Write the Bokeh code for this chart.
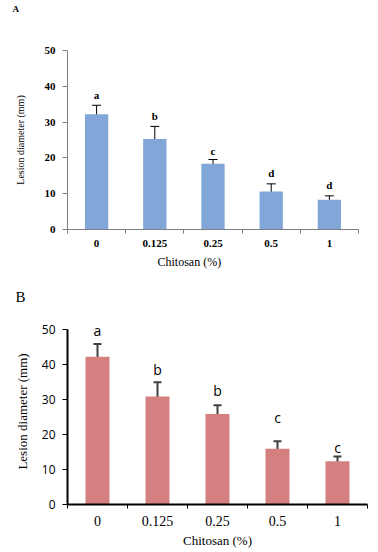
from bokeh.plotting import figure
from bokeh.models import Range1d, FixedTicker, Whisker, TeeHead, ColumnDataSource, Title
from bokeh.layouts import column
from bokeh.core.properties import value
from bokeh.embed import file_html
from bokeh.resources import INLINE

# ---- data ----
categories = ["0", "0.125", "0.25", "0.5", "1"]
y_ticks = [0, 10, 20, 30, 40, 50]

a_means = [32.2, 25.3, 18.4, 10.6, 8.3]
a_errs = [2.5, 3.5, 1.15, 2.15, 1.1]
a_letters = ["a", "b", "c", "d", "d"]
a_letter_y = [37.6, 31.8, 21.8, 15.7, 12.4]

b_means = [42.1, 30.8, 25.8, 15.9, 12.3]
b_errs = [3.65, 4.0, 2.5, 2.1, 1.4]
b_letters = ["a", "b", "b", "c", "c"]
b_letter_y = [49.7, 38.6, 32.6, 24.9, 16.2]

SERIF = "Liberation Serif"
SANS = "Open Sans"


def make_panel(means, errs, letters, letter_y, *, frame_w, frame_h, y_end,
               top, bottom, left, bar_color, axis_color, axis_w, err_color, err_w,
               cap, tick_font, tick_size, tick_style, ytick_font, ytick_size,
               ytick_style, xlabel, ylabel, label_size, ylabel_size,
               letter_font, letter_size, letter_style, panel_text, panel_size,
               panel_style, panel_offset, panel_standoff, spacer_standoff,
               ylab_standoff, xtick_standoff, xlab_offset, xlab_standoff, xlab_align):
    xs = list(range(1, len(categories) + 1))
    src = ColumnDataSource(dict(
        x=xs, top=means,
        upper=[m + e for m, e in zip(means, errs)],
        lower=[m - e for m, e in zip(means, errs)],
        letter=letters, ly=letter_y))
    p = figure(frame_width=frame_w, frame_height=frame_h,
               x_range=Range1d(0.5, len(categories) + 0.5), y_range=Range1d(0, y_end),
               output_backend="svg", toolbar_location=None,
               min_border_left=left, min_border_right=4, min_border_top=top,
               min_border_bottom=bottom)
    p.outline_line_color = None
    p.grid.grid_line_color = None
    p.background_fill_color = "white"
    p.border_fill_color = "white"

    p.vbar(x="x", top="top", width=0.4, source=src, fill_color=bar_color,
           line_color=None)
    w = Whisker(base="x", upper="upper", lower="lower", source=src,
                line_color=err_color, line_width=err_w,
                upper_head=TeeHead(size=cap, line_color=err_color, line_width=err_w),
                lower_head=TeeHead(size=cap, line_color=err_color, line_width=err_w))
    p.add_layout(w)
    p.text(x="x", y="ly", text="letter", source=src, text_align="center",
           text_baseline="middle", text_font=value(letter_font),
           text_font_size=letter_size, text_font_style=letter_style,
           text_color="black")

    # x axis: labels at category centres, ticks on category boundaries
    xa = p.xaxis[0]
    xa.ticker = FixedTicker(ticks=xs, minor_ticks=[x - 0.5 for x in xs] + [xs[-1] + 0.5])
    xa.major_label_overrides = {x: c for x, c in zip(xs, categories)}
    xa.major_tick_out = 0
    xa.major_tick_in = 0
    xa.minor_tick_out = 4
    xa.minor_tick_in = 0
    xa.major_label_standoff = xtick_standoff
    xa.major_label_text_font = tick_font
    xa.major_label_text_font_size = tick_size
    xa.major_label_text_font_style = tick_style
    xa.major_label_text_color = "black"

    p.add_layout(Title(text=xlabel, align=xlab_align, offset=xlab_offset,
                       standoff=xlab_standoff, text_font=SERIF,
                       text_font_size=label_size, text_font_style="normal",
                       text_color="black"), "below")

    ya = p.yaxis[0]
    ya.ticker = FixedTicker(ticks=y_ticks)
    ya.bounds = (0, 50)
    ya.minor_tick_line_color = None
    ya.major_tick_out = 5
    ya.major_tick_in = 0
    ya.major_label_standoff = 7
    ya.major_label_text_font = ytick_font
    ya.major_label_text_font_size = ytick_size
    ya.major_label_text_font_style = ytick_style
    ya.major_label_text_color = "black"
    ya.axis_label = ylabel
    ya.axis_label_text_font = SERIF
    ya.axis_label_text_font_size = ylabel_size
    ya.axis_label_text_font_style = "normal"
    ya.axis_label_text_color = "black"
    ya.axis_label_standoff = ylab_standoff

    for ax in (xa, ya):
        ax.axis_line_color = axis_color
        ax.axis_line_width = axis_w
        ax.major_tick_line_color = axis_color
        ax.major_tick_line_width = 1
        ax.minor_tick_line_width = 1
    xa.minor_tick_line_color = axis_color

    if spacer_standoff:
        p.add_layout(Title(text=" ", text_font_size="1px",
                           standoff=spacer_standoff), "above")
    p.add_layout(Title(text=panel_text, align="left", offset=panel_offset,
                       standoff=panel_standoff, vertical_align="top",
                       text_font=SERIF, text_font_size=panel_size,
                       text_font_style=panel_style, text_color="black"), "above")
    return p


pa = make_panel(a_means, a_errs, a_letters, a_letter_y,
                frame_w=291, frame_h=179, y_end=50, top=50, bottom=44, left=67,
                bar_color="#80a7d7", axis_color="#7f7f7f", axis_w=1,
                err_color="black", err_w=1, cap=9,
                tick_font=SERIF, tick_size="11px", tick_style="bold",
                ytick_font=SERIF, ytick_size="11px", ytick_style="bold",
                xlabel="Chitosan  (%)", ylabel="Lesion diameter (mm)",
                label_size="12px", ylabel_size="10px",
                letter_font=SERIF, letter_size="11px", letter_style="bold",
                panel_text="A", panel_size="9px", panel_style="bold",
                panel_offset=-55, panel_standoff=4, spacer_standoff=30,
                ylab_standoff=16, xtick_standoff=6, xlab_offset=90,
                xlab_standoff=7, xlab_align="left")

pb = make_panel(b_means, b_errs, b_letters, b_letter_y,
                frame_w=300, frame_h=186, y_end=53, top=45, bottom=44, left=67,
                bar_color="#d48080", axis_color="black", axis_w=2,
                err_color="#404040", err_w=2, cap=8,
                tick_font=SERIF, tick_size="14px", tick_style="normal",
                ytick_font=SANS, ytick_size="12px", ytick_style="normal",
                xlabel="Chitosan (%)", ylabel="Lesion diameter (mm)",
                label_size="13px", ylabel_size="13px",
                letter_font=SANS, letter_size="14px", letter_style="normal",
                panel_text="B", panel_size="15px", panel_style="normal",
                panel_offset=-52, panel_standoff=24, spacer_standoff=0,
                ylab_standoff=9, xtick_standoff=7, xlab_offset=0,
                xlab_standoff=4, xlab_align="center")

layout = column(pa, pb, spacing=0)
open("out.html", "w").write(file_html(layout, INLINE))
